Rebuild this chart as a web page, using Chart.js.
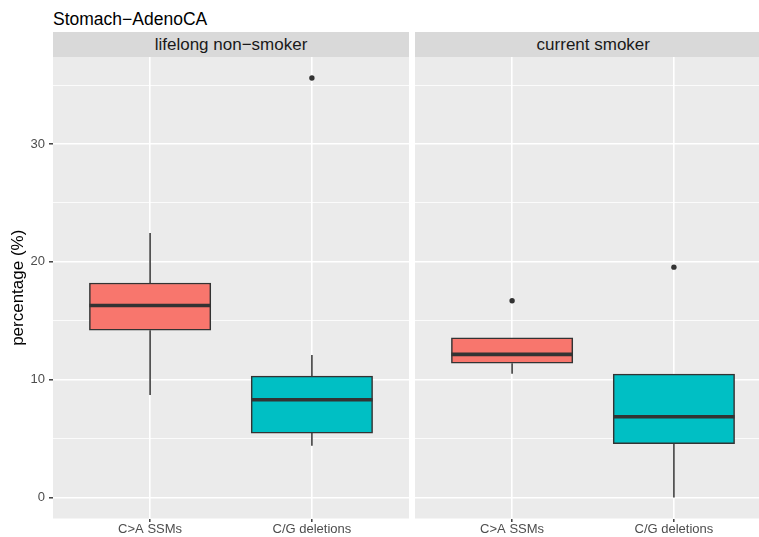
<!DOCTYPE html>
<html>
<head>
<meta charset="utf-8">
<script src="https://cdn.jsdelivr.net/npm/chart.js@4/dist/chart.umd.min.js"></script>
<style>
  html, body { margin: 0; padding: 0; background: #ffffff; overflow: hidden; }
  body { width: 759px; height: 537px; position: relative; font-family: "Liberation Sans", Arial, sans-serif; }
  #title { position: absolute; left: 53px; top: 9px; font-size: 17.5px; line-height: 20px; color: #000000; white-space: nowrap; }
  .strip { position: absolute; top: 32px; height: 25px; line-height: 25px; background: #D9D9D9; color: #1A1A1A;
           font-size: 17px; text-align: center; white-space: nowrap; }
  canvas { position: absolute; }
</style>
</head>
<body>
<div id="title">Stomach−AdenoCA</div>
<div class="strip" id="strip0"></div>
<div class="strip" id="strip1"></div>
<canvas id="panel0" width="409" height="482"></canvas>
<canvas id="panel1" width="356" height="482"></canvas>
<script>
// Categories shown on the x axis of each facet, and the facet titles
const categories = ['C>A SSMs', 'C/G deletions'];
const facetLabels = ['lifelong non−smoker', 'current smoker'];
const fillColors = ['#F8766D', '#00BFC4'];
const yTicks = [0, 10, 20, 30];

// Box-plot statistics, lifelong non-smokers
const nonSmokerLow = [8.7, 4.4];
const nonSmokerQ1 = [14.2, 5.47];
const nonSmokerMedian = [16.3, 8.3];
const nonSmokerQ3 = [18.2, 10.3];
const nonSmokerHigh = [22.45, 12.1];
const nonSmokerOutliers = [[], [35.6]];

// Box-plot statistics, current smokers
const smokerLow = [10.5, 0];
const smokerQ1 = [11.4, 4.56];
const smokerMedian = [12.15, 6.85];
const smokerQ3 = [13.55, 10.47];
const smokerHigh = [13.55, 10.47];
const smokerOutliers = [[16.7], [19.55]];

const facets = [
  { low: nonSmokerLow, q1: nonSmokerQ1, median: nonSmokerMedian, q3: nonSmokerQ3, high: nonSmokerHigh, outliers: nonSmokerOutliers },
  { low: smokerLow, q1: smokerQ1, median: smokerMedian, q3: smokerQ3, high: smokerHigh, outliers: smokerOutliers }
];

// Shared y range: data extent expanded by 5% on each side
const allValues = facets.flatMap(f => [...f.low, ...f.high, ...f.outliers.flat()]);
const dataMin = Math.min(...allValues), dataMax = Math.max(...allValues);
const pad = (dataMax - dataMin) * 0.05;
const yMin = dataMin - pad, yMax = dataMax + pad;

// Major ticks plus minor ticks halfway between them
const majorStep = yTicks[1] - yTicks[0];
const gridValues = [];
yTicks.forEach(v => {
  if (v - majorStep / 2 >= yMin && !gridValues.includes(v - majorStep / 2)) gridValues.push(v - majorStep / 2);
  gridValues.push(v);
  if (v + majorStep / 2 <= yMax) gridValues.push(v + majorStep / 2);
});
const isMajor = v => yTicks.includes(v);

// Discrete x axis: positions 1..n with 0.6 expansion on either side
const xMin = 0.4, xMax = categories.length + 0.6;
const boxHalf = 0.375;
const panelWidth = 356;
const boxPx = panelWidth * (2 * boxHalf) / (xMax - xMin);

const panelBackground = {
  id: 'panelBackground',
  beforeDraw(chart) {
    const { ctx, chartArea: a } = chart;
    ctx.save();
    ctx.fillStyle = '#EBEBEB';
    ctx.fillRect(a.left, a.top, a.right - a.left, a.bottom - a.top);
    ctx.restore();
  }
};

Chart.defaults.font.family = '"Liberation Sans", Arial, sans-serif';

function buildDatasets(f) {
  const whiskers = [], medians = [], points = [];
  categories.forEach((c, i) => {
    const x = i + 1;
    whiskers.push({ x, y: f.low[i] }, { x, y: f.q1[i] }, { x, y: null },
                  { x, y: f.q3[i] }, { x, y: f.high[i] }, { x, y: null });
    medians.push({ x: x - boxHalf, y: f.median[i] }, { x: x + boxHalf, y: f.median[i] }, { x, y: null });
    f.outliers[i].forEach(v => points.push({ x, y: v }));
  });
  return [
    { type: 'line', data: whiskers, borderColor: '#333333', borderWidth: 1.5, pointRadius: 0,
      spanGaps: false, order: 3 },
    { type: 'bar', data: categories.map((c, i) => ({ x: i + 1, y: [f.q1[i], f.q3[i]] })),
      backgroundColor: fillColors, borderColor: '#333333', borderWidth: 1.5, borderSkipped: false,
      barThickness: boxPx, grouped: false, order: 2 },
    { type: 'line', data: medians, borderColor: '#333333', borderWidth: 3.6, borderCapStyle: 'butt',
      pointRadius: 0, spanGaps: false, order: 1 },
    { type: 'line', data: points, showLine: false, pointRadius: 2.7, pointBackgroundColor: '#333333',
      pointBorderWidth: 0, order: 0 }
  ];
}

function makePanel(idx, left, showY) {
  const canvas = document.getElementById('panel' + idx);
  canvas.style.left = left + 'px';
  canvas.style.top = '57px';
  const strip = document.getElementById('strip' + idx);
  strip.textContent = facetLabels[idx];
  strip.style.left = (left + (showY ? 53 : 0)) + 'px';
  strip.style.width = panelWidth + 'px';

  return new Chart(canvas, {
    type: 'bar',
    data: { datasets: buildDatasets(facets[idx]) },
    plugins: [panelBackground],
    options: {
      responsive: false,
      animation: false,
      layout: { padding: 0, autoPadding: false },
      plugins: { legend: { display: false }, tooltip: { enabled: false } },
      scales: {
        x: {
          type: 'linear',
          min: xMin, max: xMax,
          offset: false,
          afterBuildTicks: s => { s.ticks = categories.map((c, i) => ({ value: i + 1 })); },
          afterFit: s => { s.height = 20.5; s.paddingLeft = 0; s.paddingRight = 0; },
          grid: { offset: false, color: '#FFFFFF', lineWidth: 1.6, drawTicks: true,
                  tickLength: 3.5, tickColor: '#333333', tickWidth: 1.4 },
          border: { display: false },
          ticks: { padding: 0, color: '#4D4D4D', font: { size: 13 }, maxRotation: 0,
                   autoSkip: false, callback: v => categories[v - 1] }
        },
        y: {
          type: 'linear',
          min: yMin, max: yMax,
          afterBuildTicks: s => { s.ticks = gridValues.map(v => ({ value: v })); },
          afterFit: s => { s.width = showY ? 53 : 0; s.paddingTop = 0; s.paddingBottom = 0; },
          grid: {
            color: '#FFFFFF',
            lineWidth: c => isMajor(c.tick.value) ? 1.6 : 0.8,
            drawTicks: showY,
            tickLength: 4,
            tickColor: c => isMajor(c.tick.value) ? '#333333' : 'rgba(0,0,0,0)',
            tickWidth: c => isMajor(c.tick.value) ? 1.4 : 0
          },
          border: { display: false },
          title: { display: showY, text: 'percentage (%)', color: '#000000',
                   font: { size: 17 }, padding: { top: 8, bottom: 0 } },
          ticks: { display: showY, padding: 4, color: '#4D4D4D', font: { size: 13 },
                   autoSkip: false, callback: v => isMajor(v) ? String(v) : '' }
        }
      }
    }
  });
}

makePanel(0, 0, true);
makePanel(1, 415.3, false);
</script>
</body>
</html>
